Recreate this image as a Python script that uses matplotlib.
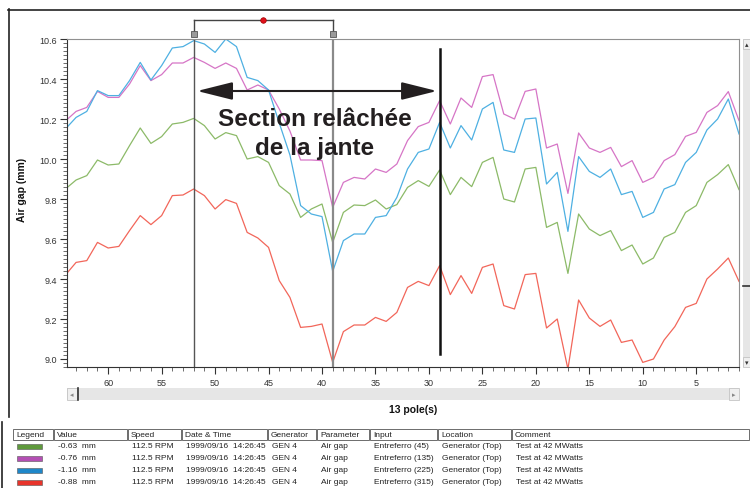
import numpy as np
import matplotlib.pyplot as plt
from matplotlib.patches import Rectangle
from matplotlib.lines import Line2D

plt.rcParams['font.family'] = ['Liberation Sans', 'DejaVu Sans']

# %% air gap per pole, one trace per probe (poles 64 -> 1)
poles = np.arange(64, 0, -1)

gap_45 = [9.85, 9.895, 9.917, 9.995, 9.97, 9.975, 10.067, 10.155, 10.078, 10.112,
          10.175, 10.183, 10.203, 10.167, 10.10, 10.132, 10.117, 10.00, 10.012, 9.983,
          9.867, 9.825, 9.708, 9.75, 9.775, 9.583, 9.733, 9.77, 9.767, 9.795,
          9.75, 9.772, 9.858, 9.892, 9.863, 9.945, 9.822, 9.908, 9.862, 9.983,
          10.008, 9.80, 9.785, 9.95, 9.958, 9.658, 9.683, 9.428, 9.725, 9.65,
          9.617, 9.642, 9.542, 9.57, 9.475, 9.505, 9.608, 9.633, 9.733, 9.767,
          9.883, 9.922, 9.972, 9.847]

gap_135 = [10.19, 10.238, 10.258, 10.338, 10.308, 10.308, 10.375, 10.467, 10.392, 10.422,
           10.48, 10.48, 10.508, 10.483, 10.453, 10.48, 10.453, 10.345, 10.37, 10.345,
           10.25, 10.14, 9.995, 9.995, 9.992, 9.758, 9.883, 9.908, 9.90, 9.95,
           9.933, 9.975, 10.092, 10.162, 10.183, 10.292, 10.175, 10.305, 10.258, 10.412,
           10.422, 10.225, 10.20, 10.338, 10.35, 10.055, 10.075, 9.828, 10.13, 10.055,
           10.033, 10.058, 9.962, 9.992, 9.883, 9.908, 9.992, 10.022, 10.113, 10.133,
           10.233, 10.267, 10.337, 10.192]

gap_225 = [10.15, 10.208, 10.238, 10.342, 10.317, 10.317, 10.392, 10.483, 10.395, 10.467,
           10.555, 10.562, 10.592, 10.575, 10.533, 10.60, 10.562, 10.408, 10.392, 10.345,
           10.18, 10.02, 9.767, 9.725, 9.712, 9.438, 9.592, 9.625, 9.625, 9.708,
           9.717, 9.808, 9.95, 10.033, 10.05, 10.183, 10.055, 10.167, 10.095, 10.25,
           10.283, 10.045, 10.033, 10.20, 10.205, 9.875, 9.933, 9.638, 10.012, 9.938,
           9.908, 9.95, 9.822, 9.838, 9.708, 9.733, 9.85, 9.872, 9.983, 10.033,
           10.145, 10.20, 10.30, 10.125]

gap_315 = [9.42, 9.483, 9.492, 9.583, 9.555, 9.563, 9.642, 9.717, 9.672, 9.717,
           9.817, 9.82, 9.85, 9.817, 9.75, 9.797, 9.778, 9.633, 9.605, 9.558,
           9.392, 9.308, 9.158, 9.163, 9.175, 8.983, 9.137, 9.17, 9.17, 9.208,
           9.188, 9.233, 9.358, 9.388, 9.367, 9.467, 9.322, 9.417, 9.328, 9.458,
           9.475, 9.267, 9.25, 9.422, 9.428, 9.155, 9.20, 8.95, 9.295, 9.205,
           9.163, 9.195, 9.083, 9.095, 8.983, 9.00, 9.095, 9.162, 9.258, 9.278,
           9.40, 9.45, 9.505, 9.388]

line_colors = ['#8cba68', '#d675c6', '#4eb0e2', '#f2665a']
swatch_colors = ['#5f9a3c', '#b44fb4', '#1f87c9', '#e8342b']
values = ['-0.63  mm', '-0.76  mm', '-1.16  mm', '-0.88  mm']
inputs = ['Entreferro (45)', 'Entreferro (135)', 'Entreferro (225)', 'Entreferro (315)']

columns = ['Legend', 'Value', 'Speed', 'Date & Time', 'Generator', 'Parameter',
           'Input', 'Location', 'Comment']
col_edges = [13, 54, 128, 182, 268, 317, 370, 438, 512, 750]

cursor_poles = [52, 39]
marker_pole = 29

# %%
W, H = 750, 489
fig = plt.figure(figsize=(W / 100, H / 100), dpi=100)


def fx(x):
    return x / W


def fy(y):
    return 1 - y / H


def hline(x0, x1, y, **kw):
    fig.add_artist(Line2D([fx(x0), fx(x1)], [fy(y), fy(y)], **kw))


def vline(x, y0, y1, **kw):
    fig.add_artist(Line2D([fx(x), fx(x)], [fy(y0), fy(y1)], **kw))


# outer frame of the chart panel
hline(8, 752, 10.5, color='#222222', lw=1.2)
vline(8.5, 10, 418, color='#222222', lw=1.2)
vline(1.5, 423, 489, color='#222222', lw=1.2)

ax = fig.add_axes([fx(67), fy(368), (739 - 67) / W, (368 - 40) / H])
for y, c in zip([gap_45, gap_135, gap_225, gap_315], line_colors):
    ax.plot(poles, y, color=c, lw=0.9)

ax.set_xlim(63.85, 1.0)
ax.set_ylim(8.96, 10.6)
ax.set_xticks(np.arange(60, 0, -5))
ax.set_xticks(np.arange(63, 0, -1), minor=True)
ax.set_yticks(np.arange(9.0, 10.61, 0.2))
ax.set_yticks(np.arange(8.96, 10.6, 0.02), minor=True)
ax.yaxis.set_major_formatter(plt.FormatStrFormatter('%.1f'))
ax.tick_params(labelsize=6.5, colors='#333333', length=5, width=0.8, pad=2)
ax.tick_params(which='minor', length=3, width=0.6, colors='#555555')
ax.tick_params(axis='x', pad=3)
for s in ['top', 'right']:
    ax.spines[s].set_color('#909090')
for s in ['left', 'bottom']:
    ax.spines[s].set_color('#333333')

fig.text(fx(22), fy(190), 'Air gap (mm)', fontsize=7.5, fontweight='bold',
         rotation=90, ha='center', va='center', color='#111111')

# cursors with their bracket above the plot
ax.axvline(cursor_poles[0], color='#555555', lw=1.0)
ax.axvline(cursor_poles[1], color='#8a8a8a', lw=1.6)
top = 10.695
ax.plot(cursor_poles, [top, top], color='#444444', lw=1.0, clip_on=False)
for p in cursor_poles:
    ax.plot([p, p], [top, 10.64], color='#444444', lw=1.0, clip_on=False)
    ax.plot(p, 10.625, marker='s', ms=4.5, mfc='#9a9a9a', mec='#555555',
            mew=0.6, clip_on=False)
ax.plot(np.mean(cursor_poles), top, 'o', ms=4, mfc='#e0101a', mec='#a00000',
        mew=0.5, clip_on=False)

ax.plot([marker_pole, marker_pole], [9.025, 10.55], color='#111111', lw=1.8)

ax.annotate('', xy=(29.25, 10.34), xytext=(51.68, 10.34),
            arrowprops=dict(arrowstyle='<|-|>,head_length=2.2,head_width=0.55',
                            color='#231f20', lw=1.5, shrinkA=0, shrinkB=0))
ax.text(40.65, 10.13, 'Section relâchée\nde la jante', ha='center', va='center',
        fontsize=17.5, fontweight='bold', color='#231f20', linespacing=1.35)

# scroll bars
fig.add_artist(Rectangle((fx(67), fy(401)), (739 - 67) / W, 12 / H,
                         facecolor='#e6e6e6', edgecolor='none'))
fig.add_artist(Rectangle((fx(67), fy(401)), 10 / W, 12 / H,
                         facecolor='#efefef', edgecolor='#bbbbbb', lw=0.5))
fig.add_artist(Rectangle((fx(729), fy(401)), 10 / W, 12 / H,
                         facecolor='#efefef', edgecolor='#bbbbbb', lw=0.5))
vline(77.5, 389, 401, color='#333333', lw=1.2)
fig.text(fx(72), fy(395), '◂', fontsize=5, color='#888888', ha='center', va='center',
         family=['DejaVu Sans'])
fig.text(fx(734), fy(395), '▸', fontsize=5, color='#888888', ha='center', va='center',
         family=['DejaVu Sans'])

fig.add_artist(Rectangle((fx(743), fy(368)), 7 / W, (368 - 40) / H,
                         facecolor='#e6e6e6', edgecolor='none'))
fig.add_artist(Rectangle((fx(743), fy(50)), 7 / W, 10 / H,
                         facecolor='#efefef', edgecolor='#bbbbbb', lw=0.5))
fig.add_artist(Rectangle((fx(743), fy(368)), 7 / W, 10 / H,
                         facecolor='#efefef', edgecolor='#bbbbbb', lw=0.5))
hline(743, 750, 287, color='#333333', lw=1.2)
fig.text(fx(747), fy(45), '▴', fontsize=5, color='#333333', ha='center', va='center',
         family=['DejaVu Sans'])
fig.text(fx(747), fy(363), '▾', fontsize=5, color='#333333', ha='center', va='center',
         family=['DejaVu Sans'])

fig.text(fx(413), fy(410), '13 pole(s)', fontsize=7.5, fontweight='bold',
         ha='center', va='center', color='#111111')

# legend table
for i, name in enumerate(columns):
    x0, x1 = col_edges[i], col_edges[i + 1]
    fig.add_artist(Rectangle((fx(x0), fy(441)), (x1 - x0 - 1) / W, 11 / H,
                             facecolor='white', edgecolor='#555555', lw=0.6))
    fig.text(fx(x0 + 3), fy(435.5), name, fontsize=6, ha='left', va='center',
             color='#222222')

row_y = [447, 459, 471, 483]
for i, y in enumerate(row_y):
    fig.add_artist(Rectangle((fx(17), fy(y + 2.5)), 25 / W, 5 / H,
                             facecolor=swatch_colors[i], edgecolor='#555555', lw=0.4))
    cells = [values[i], '112.5 RPM', '1999/09/16  14:26:45', 'GEN 4', 'Air gap',
             inputs[i], 'Generator (Top)', 'Test at 42 MWatts']
    for j, t in enumerate(cells):
        fig.text(fx(col_edges[j + 1] + 4), fy(y), t, fontsize=6, ha='left',
                 va='center', color='#222222')

fig.savefig('out.png', dpi=100)
